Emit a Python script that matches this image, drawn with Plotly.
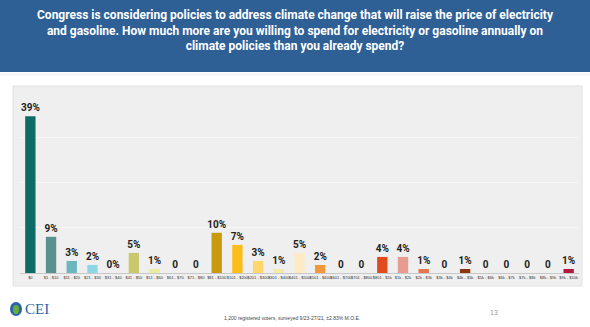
import plotly.graph_objects as go

categories = ["$0", "$1 - $10", "$11 - $20", "$21 - $30", "$31 - $40", "$41 - $50",
              "$51 - $60", "$61 - $70", "$71 - $80", "$81 - $100", "$101 - $200",
              "$201 - $300", "$301 - $400", "$401 - $500", "$501 - $600", "$601 - $700",
              "$701 - $800", "$801 - $1k", "$1k - $2k", "$2k - $3k", "$3k - $4k",
              "$4k - $5k", "$5k - $6k", "$6k - $7k", "$7k - $8k", "$8k - $9k", "$9k - $10k"]
values = [39, 9, 3, 2, 0, 5, 1, 0, 0, 10, 7, 3, 1, 5, 2, 0, 0, 4, 4, 1, 0, 1, 0, 0, 0, 0, 1]
value_labels = ["39%", "9%", "3%", "2%", "0%", "5%", "1%", "0", "0", "10%", "7%", "3%", "1%",
                "5%", "2%", "0", "0", "4%", "4%", "1%", "0", "1%", "0", "0", "0", "0", "1%"]
bar_colors = ["#0f6b66", "#5b9090", "#6db5bf", "#8dd6e6", "#9aa0a0", "#c9c86c", "#e9ee9c",
              "#cccccc", "#cccccc", "#c99a0e", "#fbbd19", "#fdd66e", "#f6eaa9", "#fdeac6",
              "#f29a3b", "#cccccc", "#cccccc", "#e04a1f", "#e79c91", "#e8744e", "#cccccc",
              "#8a3611", "#cccccc", "#cccccc", "#cccccc", "#cccccc", "#b2173e"]
title_text = ("Congress is considering policies to address climate change that will raise the price of electricity<br>"
              "and gasoline. How much more are you willing to spend for electricity or gasoline annually on<br>"
              "climate policies than you already spend?")
footer_text = "1,200 registered voters, surveyed 9/23-27/21, \u00b12.83% M.O.E."

W, H = 590, 327
L, R, T, B = 20, 11, 92, 54
PW, PH = W - L - R, H - T - B


def fx(x):
    return (x - L) / PW


def fy(y):
    return (H - B - y) / PH


fig = go.Figure()
fig.add_trace(go.Bar(
    x=categories, y=values, marker=dict(color=bar_colors, line=dict(width=0)),
    text=["<b>" + t + "</b>" for t in value_labels], textposition="outside",
    cliponaxis=False, constraintext="none",
    textfont=dict(family="Liberation Sans Narrow, Roboto, sans-serif", size=10, color="#222222"),
    width=0.5, hoverinfo="skip"))

shapes = [
    dict(type="rect", xref="paper", yref="paper", x0=fx(0), x1=fx(W), y0=fy(72), y1=fy(0),
         fillcolor="#2e6096", line=dict(width=0), layer="below"),
    dict(type="rect", xref="paper", yref="paper", x0=fx(0), x1=fx(W), y0=fy(76), y1=fy(73),
         fillcolor="#f4f6f8", line=dict(width=0), layer="below"),
    dict(type="rect", xref="paper", yref="paper", x0=fx(13), x1=fx(582), y0=fy(286), y1=fy(86),
         fillcolor="#efefef", line=dict(width=1, color="#e2e2e2"), layer="below"),
    dict(type="circle", xref="paper", yref="paper", x0=fx(10), x1=fx(22), y0=fy(316), y1=fy(302),
         fillcolor="#2a66a8", line=dict(width=0)),
    dict(type="circle", xref="paper", yref="paper", x0=fx(13), x1=fx(19), y0=fy(314), y1=fy(305),
         fillcolor="#6cae3c", line=dict(width=0)),
]

annotations = [
    dict(text="<b>" + title_text + "</b>", xref="paper", yref="paper", x=fx(295), y=fy(30),
         xanchor="center", yanchor="middle", showarrow=False, align="center",
         font=dict(family="Liberation Sans Narrow, Roboto, sans-serif", size=12, color="white")),
    dict(text=footer_text, xref="paper", yref="paper", x=fx(292), y=fy(318),
         xanchor="center", yanchor="middle", showarrow=False,
         font=dict(family="Liberation Sans, sans-serif", size=5, color="#444444")),
    dict(text="13", xref="paper", yref="paper", x=fx(494), y=fy(312),
         xanchor="center", yanchor="middle", showarrow=False,
         font=dict(family="Liberation Sans, sans-serif", size=7, color="#999999")),
    dict(text="CEI", xref="paper", yref="paper", x=fx(23), y=fy(309),
         xanchor="left", yanchor="middle", showarrow=False,
         font=dict(family="Liberation Serif, serif", size=15, color="#2a66a8")),
]

fig.update_layout(
    width=W, height=H, margin=dict(l=L, r=R, t=T, b=B),
    paper_bgcolor="white", plot_bgcolor="#ececec",
    showlegend=False, bargap=0.5,
    shapes=shapes, annotations=annotations,
    xaxis=dict(type="category", tickangle=0, showgrid=False, ticks="",
               tickfont=dict(family="Liberation Sans Narrow, sans-serif", size=4, color="#333333"),
               showline=True, linecolor="#c8c8c8", linewidth=1, fixedrange=True),
    yaxis=dict(range=[0, 45], tickvals=[11.25, 22.5, 33.75, 45], showticklabels=False,
               showgrid=True, gridcolor="#f6f6f6", gridwidth=1, zeroline=False, fixedrange=True),
)

fig.write_html("out.html")
